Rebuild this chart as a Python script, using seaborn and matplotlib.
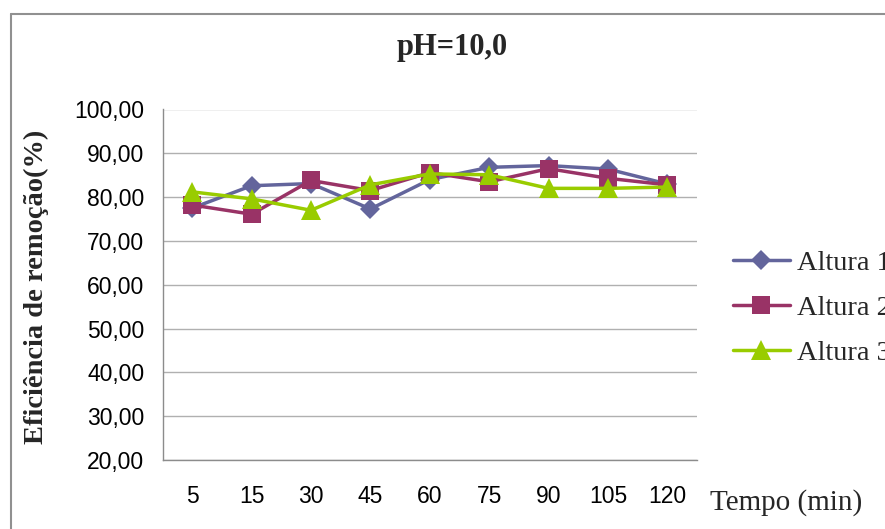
import matplotlib
matplotlib.use("Agg")
import matplotlib.pyplot as plt
from matplotlib.lines import Line2D
import seaborn as sns
import pandas as pd

# ---- data ----
tempo = ["5", "15", "30", "45", "60", "75", "90", "105", "120"]
altura1 = [77.5, 82.6, 83.1, 77.3, 84.0, 86.8, 87.2, 86.4, 83.0]
altura2 = [78.2, 76.1, 83.8, 81.5, 85.6, 83.5, 86.5, 84.3, 82.8]
altura3 = [81.2, 79.6, 77.0, 82.8, 85.3, 85.1, 82.0, 82.0, 82.3]
series_names = ["Altura 1", "Altura 2", "Altura 3"]
yticks = [20, 30, 40, 50, 60, 70, 80, 90, 100]

df = pd.DataFrame({
    "Tempo": tempo * 3,
    "Valor": altura1 + altura2 + altura3,
    "Serie": [series_names[0]] * len(tempo) + [series_names[1]] * len(tempo) + [series_names[2]] * len(tempo),
})

sns.set_theme(style="white")
plt.rcParams["font.family"] = ["Liberation Sans", "DejaVu Sans"]

W, H = 885, 529
fig = plt.figure(figsize=(W / 100, H / 100), dpi=100)
ax = fig.add_axes([162.5 / W, 1 - 460 / H, (697 - 162.5) / W, (460 - 109.5) / H])

palette = {"Altura 1": "#63659c", "Altura 2": "#993366", "Altura 3": "#99cc00"}
markers = {"Altura 1": "D", "Altura 2": "s", "Altura 3": "^"}
sizes = {"Altura 1": 10, "Altura 2": 12.5, "Altura 3": 14}

for name in series_names:
    sub = df[df["Serie"] == name]
    sns.lineplot(data=sub, x="Tempo", y="Valor", ax=ax, color=palette[name],
                 marker=markers[name], markersize=sizes[name], markeredgewidth=0,
                 linewidth=2.5, label=name, sort=False)

ax.set_xlim(-0.5, len(tempo) - 0.5)
ax.set_ylim(20, 100)
ax.set_yticks(yticks)
ax.set_yticklabels([f"{v:.2f}".replace(".", ",") for v in yticks])
ax.set_xlabel("")
ax.set_ylabel("")
ax.yaxis.grid(True, color="#b0b0b0", linewidth=1)
ax.xaxis.grid(False)
for s in ["top", "right"]:
    ax.spines[s].set_visible(False)
for s in ["left", "bottom"]:
    ax.spines[s].set_color("#8c8c8c")
    ax.spines[s].set_linewidth(1)
ax.tick_params(axis="y", length=0, pad=13, labelsize=16.5, labelcolor="black")
ax.tick_params(axis="x", length=0, pad=18, labelsize=16.5, labelcolor="black")

leg = ax.legend(loc="center left", bbox_to_anchor=(733 / W, 1 - 308 / H),
                bbox_transform=fig.transFigure, frameon=False,
                prop={"family": "Liberation Serif", "size": 20.5},
                handlelength=2.0, handletextpad=0.25, labelspacing=0.66,
                borderpad=0, borderaxespad=0)

fig.text(452 / W, 1 - 48 / H, "pH=10,0", ha="center", va="center",
         fontsize=22, fontweight="bold", family="Liberation Serif")
fig.text(36 / W, 1 - 287 / H, "Eficiência de remoção(%)", ha="center", va="center",
         rotation=90, fontsize=20.5, fontweight="bold", family="Liberation Serif")
fig.text(710 / W, 1 - 503 / H, "Tempo (min)", ha="left", va="center",
         fontsize=21, family="Liberation Serif")

# chart border (clipped by the image edge)
bx = 10.7 / W
by = 1 - 13.7 / H
fig.add_artist(Line2D([bx, bx], [-0.01, by], transform=fig.transFigure, color="#909090", linewidth=1.5))
fig.add_artist(Line2D([bx, 1.01], [by, by], transform=fig.transFigure, color="#909090", linewidth=1.5))

fig.savefig("out.png", dpi=100)
